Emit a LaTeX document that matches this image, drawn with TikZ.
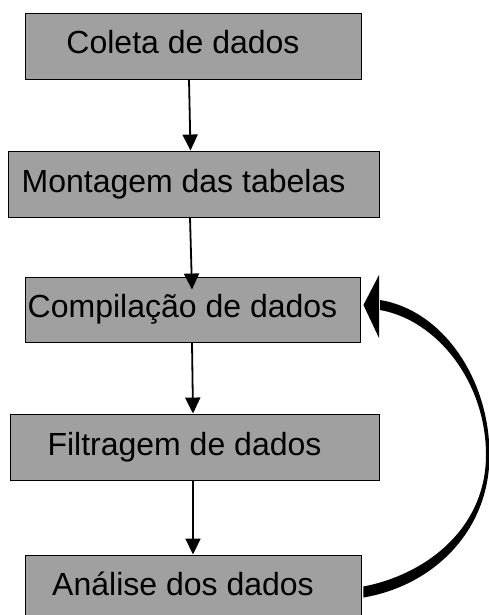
\documentclass[tikz,border=0pt]{standalone}
\usepackage{fontspec}
\setmainfont{Liberation Sans}
\usepackage{tikz}
\usetikzlibrary{arrows.meta,calc,positioning}
\definecolor{boxgray}{RGB}{160,160,160}

\begin{document}
\begin{tikzpicture}[x=1pt,y=-1pt,
  box/.style={draw=black,line width=0.9pt,fill=boxgray,inner sep=0pt},
  lbl/.style={font=\fontsize{32}{38}\selectfont,text height=23pt,text depth=7pt,inner sep=0pt,xshift=-10pt},
  flow/.style={line width=1.8pt,-{Triangle[width=15pt,length=16pt]}}]
\useasboundingbox (0,0) rectangle (489,615);
\node[box,minimum width=336pt,minimum height=66pt] (col) at (193,46) {};
\node[box,minimum width=371pt,minimum height=66pt] (mon) at (193.5,184) {};
\node[box,minimum width=335pt,minimum height=65pt] (comp) at (192.5,309.5) {};
\node[box,minimum width=369pt,minimum height=66pt] (fil) at (194.5,447) {};
\node[box,minimum width=336pt,minimum height=65pt] (ana) at (193,587.5) {};
\node[lbl] at (col) {Coleta de dados};
\node[lbl] at (mon) {Montagem das tabelas};
\node[lbl] at (comp) {Compilação de dados};
\node[lbl] at (fil) {Filtragem de dados};
\node[lbl] at (ana) {Análise dos dados};
\draw[flow] ([xshift=-4pt]col.south) -- ([xshift=-3pt]mon.north);
\draw[flow] ([xshift=-3.5pt]mon.south) -- ([xshift=-0.5pt,yshift=-13pt]comp.north);
\draw[flow] ([xshift=-0.5pt]comp.south) -- ([xshift=-1.5pt]fil.north);
\draw[flow] ([xshift=-1.5pt]fil.south) -- (ana.north);
% loop back to compilation
\fill ($(ana.east)+(2,10)$) .. controls (432,586) and (489.5,532) .. (489.5,455)
  .. controls (489.5,378) and (442,310) .. (380,300)
  -- (380,310) .. controls (437,320) and (486,382) .. (486,455)
  .. controls (486,527) and (428,574) .. ($(ana.east)+(2,-1)$) -- cycle;
\fill ($(comp.east)+(3,-4.5)$) -- (379,275) -- (379,338) -- cycle;
\end{tikzpicture}
\end{document}
